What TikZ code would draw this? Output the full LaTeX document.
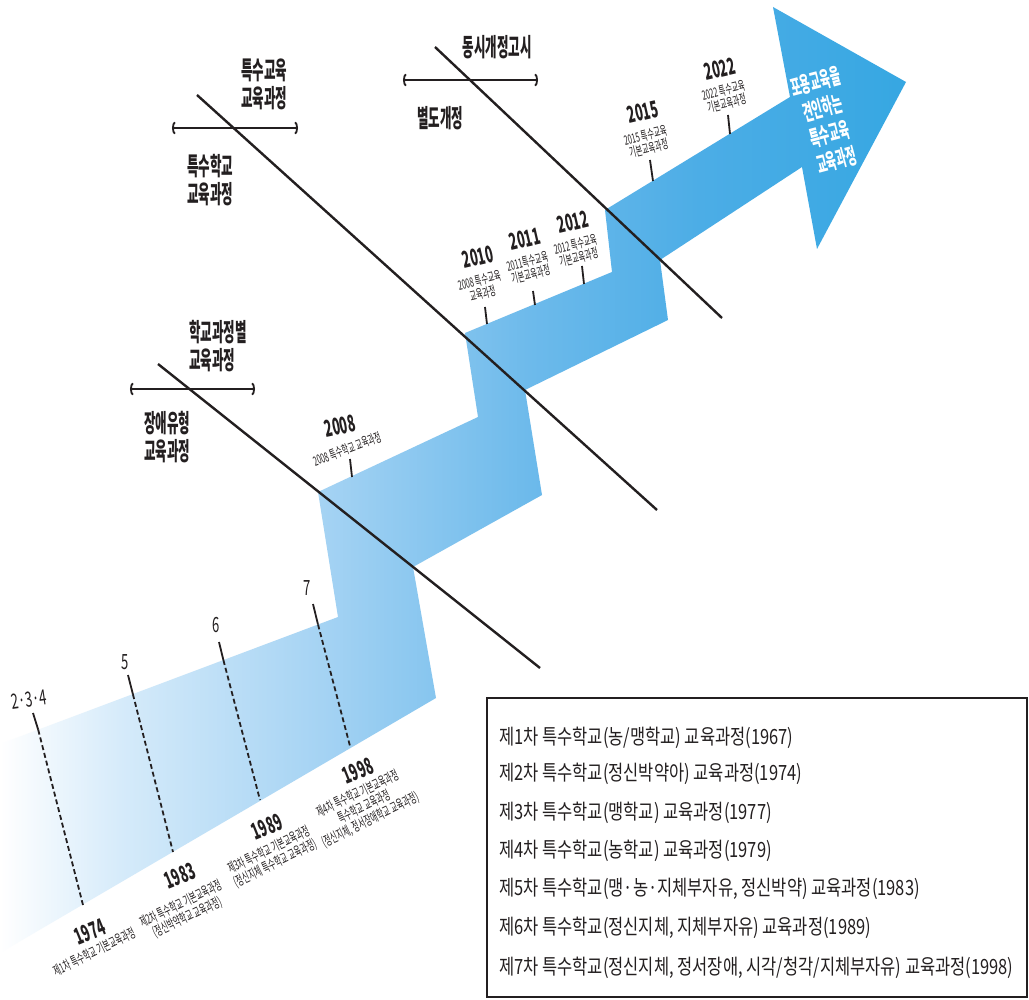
\documentclass[tikz,border=0pt]{standalone}
\usepackage{fontspec}
\usetikzlibrary{arrows.meta}
\newfontfamily\krA[FakeStretch=0.62]{Noto Sans CJK KR}
\newfontfamily\krY[FakeStretch=0.55]{Noto Sans CJK KR}
\newfontfamily\krB[FakeStretch=0.5]{Noto Sans CJK KR}
\newfontfamily\krL[FakeStretch=0.785]{Noto Sans CJK KR}
\definecolor{ink}{HTML}{231F20}
\definecolor{bA}{HTML}{D6EBFA}
\definecolor{bB}{HTML}{A3D2F3}
\definecolor{bC}{HTML}{6DBAEB}
\definecolor{bD}{HTML}{4CADE6}
\definecolor{bE}{HTML}{36A7E2}
\pgfdeclarehorizontalshading{bandsh}{100bp}{color(0bp)=(white); color(25bp)=(white); color(31.6bp)=(bA); color(43.2bp)=(bB); color(54.2bp)=(bC); color(63.6bp)=(bD); color(75bp)=(bE); color(100bp)=(bE)}
\tikzset{
 diag/.style={line width=2.4pt, ink},
 brk/.style={line width=1.8pt, ink, {Arc Barb[length=3pt,width=13pt]}-{Arc Barb[length=3pt,width=13pt]}},
 tickline/.style={line width=1.8pt, ink},
 dtick/.style={line width=1.8pt, ink, dash pattern=on 5pt off 3pt},
 big/.style={font=\krB\bfseries\fontsize{25}{28}\selectfont, align=left, inner sep=0pt, text=ink},
 yr/.style={font=\krY\bfseries\fontsize{23}{23}\selectfont, inner sep=0pt, text=ink},
 sm/.style={font=\krY\fontsize{13}{13.5}\selectfont, align=center, inner sep=0pt, text=ink},
 smb/.style={font=\krY\fontsize{13.5}{14.5}\selectfont, align=center, inner sep=0pt, text=ink},
 num/.style={font=\krA\fontsize{21}{21}\selectfont, inner sep=0pt, text=ink},
 leg/.style={font=\krL\fontsize{21}{21}\selectfont, anchor=west, inner sep=0pt, text=ink},
}
\begin{document}
\begin{tikzpicture}[x=1pt,y=-1pt]
\useasboundingbox (0,0) rectangle (1029,1000);
\fill[white] (0,0) rectangle (1029,1000);

% stepped band with arrow head
\shade[shading=bandsh] (0,744) -- (338,617) -- (318,492) -- (478,417) -- (465,333)
  -- (612,272) -- (605,210) -- (790,97) -- (773,7) -- (906,82) -- (817,249)
  -- (802,167) -- (660,260) -- (668,320) -- (525,390) -- (542,495)
  -- (413,567) -- (436,698) -- (0,953) -- cycle;

% diagonal lines
\coordinate (a1) at (158,364); \coordinate (a2) at (540,668);
\coordinate (b1) at (197,95);  \coordinate (b2) at (657,510);
\coordinate (c1) at (435,47);  \coordinate (c2) at (722,318);
\draw[diag] (a1) -- (a2);
\draw[diag] (b1) -- (b2);
\draw[diag] (c1) -- (c2);

% brackets
\coordinate (ba1) at (130,389); \coordinate (ba2) at (255,389);
\coordinate (bb1) at (172,128); \coordinate (bb2) at (298,128);
\coordinate (bc1) at (403,80);  \coordinate (bc2) at (538,80);
\draw[brk] (ba1) -- (ba2);
\draw[brk] (bb1) -- (bb2);
\draw[brk] (bc1) -- (bc2);

% category labels
\node[big] (tA) at (264,84) {특수교육\\교육과정};
\node[big] (tB) at (210,180) {특수학교\\교육과정};
\node[big] (tC) at (497,47) {동시개정고시};
\node[big] (tD) at (440,118) {별도개정};
\node[big] (tE) at (218,346) {학교과정별\\교육과정};
\node[big] (tF) at (167,437) {장애유형\\교육과정};

% lower numbers and dashed ticks
\node[num, rotate=8] (n234) at (29,700) {2·3·4};
\node[num] (n5) at (125,662) {5};
\node[num] (n6) at (216,625) {6};
\node[num] (n7) at (307,588) {7};
\coordinate (k1a) at (33,713);  \coordinate (k1b) at (38.2,729.7); \coordinate (k1c) at (83,905);
\coordinate (k2a) at (128,675); \coordinate (k2b) at (132.9,694.2); \coordinate (k2c) at (173,852);
\coordinate (k3a) at (219,642); \coordinate (k3b) at (223.4,660.1); \coordinate (k3c) at (260,800);
\coordinate (k4a) at (313,604); \coordinate (k4b) at (318,624.5); \coordinate (k4c) at (350,746);
\draw[tickline] (k1a) -- (k1b); \draw[dtick] (k1b) -- (k1c);
\draw[tickline] (k2a) -- (k2b); \draw[dtick] (k2b) -- (k2c);
\draw[tickline] (k3a) -- (k3b); \draw[dtick] (k3b) -- (k3c);
\draw[tickline] (k4a) -- (k4b); \draw[dtick] (k4b) -- (k4c);

% bottom year labels
\node[yr, rotate=22] (y1974) at (90,932) {1974};
\node[smb, rotate=26] (s1974) at (94,952) {제1차 특수학교 기본교육과정};
\node[yr, rotate=22] (y1983) at (180,876) {1983};
\node[smb, rotate=26] (s1983) at (184,911) {제2차 특수학교 기본교육과정\\(정신박약학교 교육과정)};
\node[yr, rotate=22] (y1989) at (267,827) {1989};
\node[smb, rotate=26] (s1989) at (272,857) {제3차 특수학교 기본교육과정\\(정신지체 특수학교 교육과정)};
\node[yr, rotate=22] (y1998) at (358,771) {1998};
\node[smb, rotate=26] (s1998) at (364,807) {제4차 특수학교 기본교육과정\\특수학교 교육과정\\(정신지체, 정서장애학교 교육과정)};

% upper year labels and ticks
\node[yr, rotate=12] (y2008) at (340,426) {2008};
\node[sm, rotate=21] (s2008) at (347,449) {2008 특수학교 교육과정};
\node[yr, rotate=13] (y2010) at (478,257) {2010};
\node[sm, rotate=14] (s2010) at (481,287) {2008 특수교육\\교육과정};
\node[yr, rotate=13] (y2011) at (525,239) {2011};
\node[sm, rotate=14] (s2011) at (529,268) {2011특수교육\\기본교육과정};
\node[yr, rotate=13] (y2012) at (573,222) {2012};
\node[sm, rotate=14] (s2012) at (577,251) {2012 특수교육\\기본교육과정};
\node[yr, rotate=13] (y2015) at (643,112) {2015};
\node[sm, rotate=14] (s2015) at (647,142) {2015 특수교육\\기본교육과정};
\node[yr, rotate=13] (y2022) at (720,69) {2022};
\node[sm, rotate=14] (s2022) at (725,97) {2022 특수교육\\기본교육과정};
\coordinate (u1a) at (350,459); \coordinate (u1b) at (352,477);
\coordinate (u2a) at (485,307); \coordinate (u2b) at (487,324);
\coordinate (u3a) at (533,291); \coordinate (u3b) at (535,305);
\coordinate (u4a) at (582,266); \coordinate (u4b) at (584,284);
\coordinate (u5a) at (650,160); \coordinate (u5b) at (653,181);
\coordinate (u6a) at (728,115); \coordinate (u6b) at (730,134);
\draw[tickline] (u1a) -- (u1b);
\draw[tickline] (u2a) -- (u2b);
\draw[tickline] (u3a) -- (u3b);
\draw[tickline] (u4a) -- (u4b);
\draw[tickline] (u5a) -- (u5b);
\draw[tickline] (u6a) -- (u6b);

% arrow head text
\node[font=\krB\bfseries\fontsize{22}{27}\selectfont, text=white, align=center, inner sep=0pt, rotate=15] (head) at (826,121) {포용교육을\\견인하는\\특수교육\\교육과정};

% legend box
\draw[line width=1.4pt, ink] (487,698) rectangle (1027,997);
\node[leg] (l1) at (499,738) {제1차 특수학교(농/맹학교) 교육과정(1967)};
\node[leg] (l2) at (499,774) {제2차 특수학교(정신박약아) 교육과정(1974)};
\node[leg] (l3) at (499,813) {제3차 특수학교(맹학교) 교육과정(1977)};
\node[leg] (l4) at (499,851) {제4차 특수학교(농학교) 교육과정(1979)};
\node[leg] (l5) at (499,889) {제5차 특수학교(맹·농·지체부자유, 정신박약) 교육과정(1983)};
\node[leg] (l6) at (499,928) {제6차 특수학교(정신지체, 지체부자유) 교육과정(1989)};
\node[leg] (l7) at (499,968) {제7차 특수학교(정신지체, 정서장애, 시각/청각/지체부자유) 교육과정(1998)};
\end{tikzpicture}
\end{document}
